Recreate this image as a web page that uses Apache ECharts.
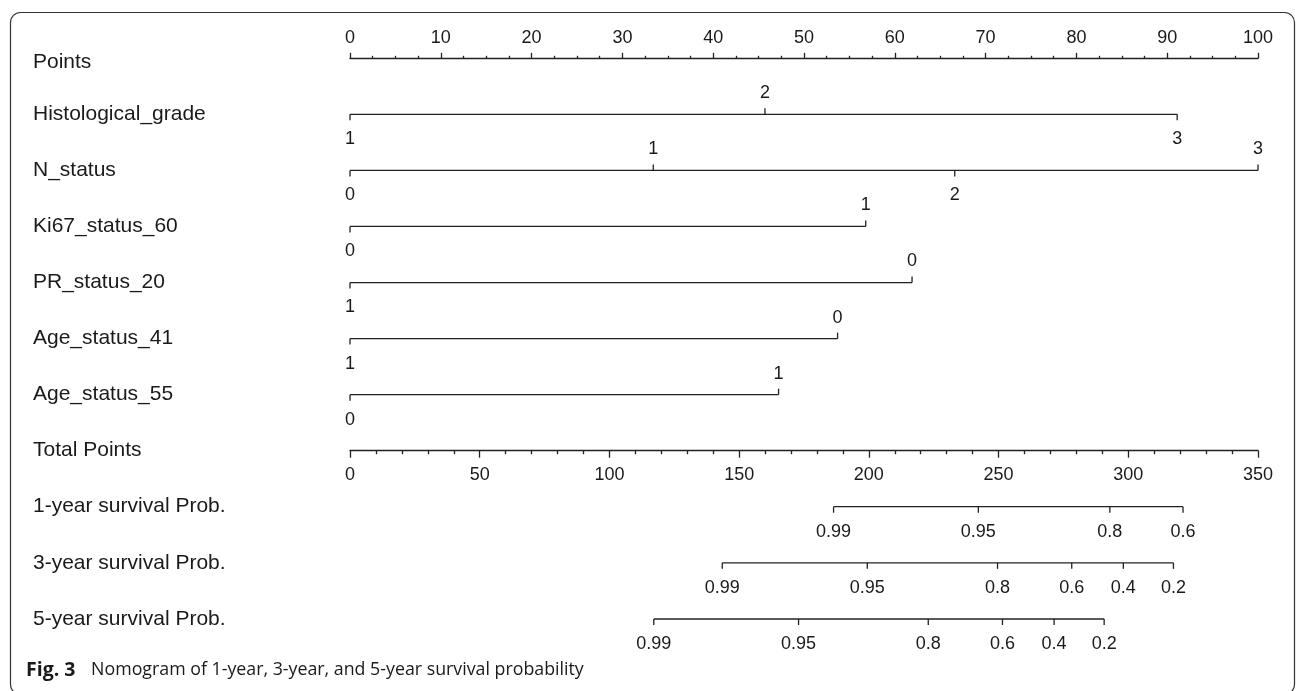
<!DOCTYPE html>
<html>
<head>
<meta charset="utf-8">
<title>Nomogram</title>
<script src="https://cdn.jsdelivr.net/npm/echarts@6/dist/echarts.min.js"></script>
<style>
  html, body { margin: 0; padding: 0; background: #fff; }
  #chart { width: 1296px; height: 691px; }
</style>
</head>
<body>
<div id="chart"></div>
<script>
// rows of the points part of the nomogram
const rowNames = [
  'Points',
  'Histological_grade',
  'N_status',
  'Ki67_status_60',
  'PR_status_20',
  'Age_status_41',
  'Age_status_55',
  'Total Points'
]
const probNames = ['1-year survival Prob.', '3-year survival Prob.', '5-year survival Prob.']

// variable levels and the points they score
const histLabels = ['1', '2', '3']
const histPoints = [0, 45.7, 91.1]
const nLabels = ['0', '1', '2', '3']
const nPoints = [0, 33.4, 66.6, 100]
const ki67Labels = ['0', '1']
const ki67Points = [0, 56.8]
const prLabels = ['1', '0']
const prPoints = [0, 61.9]
const age41Labels = ['1', '0']
const age41Points = [0, 53.7]
const age55Labels = ['0', '1']
const age55Points = [0, 47.2]

// survival probabilities placed on the total points scale
const prob1Labels = ['0.99', '0.95', '0.8', '0.6']
const prob1Total = [186.4, 242.2, 292.9, 321.1]
const prob3Labels = ['0.99', '0.95', '0.8', '0.6', '0.4', '0.2']
const prob3Total = [143.5, 199.4, 249.6, 278.2, 298.1, 317.4]
const prob5Labels = ['0.99', '0.95', '0.8', '0.6', '0.4', '0.2']
const prob5Total = [117.1, 172.9, 222.9, 251.5, 271.4, 290.7]

const pointsMax = 100
const pointsStep = 10
const totalMax = 350
const totalStep = 50

const varRows = [
  { name: 'Histological_grade', labels: histLabels, values: histPoints },
  { name: 'N_status', labels: nLabels, values: nPoints },
  { name: 'Ki67_status_60', labels: ki67Labels, values: ki67Points },
  { name: 'PR_status_20', labels: prLabels, values: prPoints },
  { name: 'Age_status_41', labels: age41Labels, values: age41Points },
  { name: 'Age_status_55', labels: age55Labels, values: age55Points }
]
const probRows = [
  { name: probNames[0], labels: prob1Labels, values: prob1Total },
  { name: probNames[1], labels: prob3Labels, values: prob3Total },
  { name: probNames[2], labels: prob5Labels, values: prob5Total }
]

const inkColor = '#222'
const textColor = '#1a1a1a'
const fontFamily = '"Liberation Sans", Arial, sans-serif'

// draws one bracket-like scale: line, ticks and level labels
const makeRenderer = (rows, names, alternate) => (params, api) => {
  const r = rows[params.dataIndex]
  const rowIdx = names.indexOf(r.name)
  const pts = r.values.map((v) => api.coord([v, rowIdx]))
  const y = pts[0][1]
  const lineStyle = { stroke: inkColor, lineWidth: 1.3 }
  const children = [
    {
      type: 'line',
      shape: { x1: pts[0][0], y1: y, x2: pts[pts.length - 1][0], y2: y },
      style: lineStyle
    }
  ]
  pts.forEach((p, i) => {
    const up = alternate && i % 2 === 1
    children.push({
      type: 'line',
      shape: { x1: p[0], y1: y, x2: p[0], y2: up ? y - 6 : y + 6 },
      style: lineStyle
    })
    children.push({
      type: 'text',
      x: p[0],
      y: up ? y - 21 : y + 25,
      style: {
        text: r.labels[i],
        fill: textColor,
        fontSize: 18,
        fontFamily,
        align: 'center',
        verticalAlign: 'middle'
      }
    })
  })
  return { type: 'group', children }
}

const rowLabelStyle = {
  interval: 0,
  align: 'left',
  margin: 317,
  color: textColor,
  fontSize: 21,
  fontFamily,
  formatter: (v) => (v === 'Points' ? '{p|' + v + '}' : v),
  rich: {
    p: { fontSize: 21, fontFamily, color: textColor, padding: [8, 0, 0, 0] }
  }
}

const axisInk = { color: inkColor, width: 1.3 }

const chart = echarts.init(document.getElementById('chart'), null, { renderer: 'canvas' })

chart.setOption({
  backgroundColor: '#fff',
  animation: false,
  grid: [
    { left: 350, width: 908, top: 58.3, height: 392.4 },
    { left: 350, width: 908, top: 506.7, height: 112.3 }
  ],
  xAxis: [
    {
      gridIndex: 0,
      type: 'value',
      position: 'top',
      min: 0,
      max: pointsMax,
      interval: pointsStep,
      axisLine: { show: true, onZero: false, lineStyle: axisInk },
      axisTick: { show: true, length: 5.5, lineStyle: axisInk },
      minorTick: { show: true, splitNumber: 4, length: 2.5, lineStyle: axisInk },
      axisLabel: { show: true, color: textColor, fontSize: 18, fontFamily, margin: 11 },
      splitLine: { show: false }
    },
    {
      gridIndex: 0,
      type: 'value',
      position: 'bottom',
      min: 0,
      max: totalMax,
      interval: totalStep,
      axisLine: { show: true, onZero: false, lineStyle: axisInk },
      axisTick: { show: true, length: 7, lineStyle: axisInk },
      minorTick: { show: true, splitNumber: 5, length: 3.5, lineStyle: axisInk },
      axisLabel: { show: true, color: textColor, fontSize: 18, fontFamily, margin: 15 },
      splitLine: { show: false }
    },
    {
      gridIndex: 1,
      type: 'value',
      min: 0,
      max: totalMax,
      show: false
    }
  ],
  yAxis: [
    {
      gridIndex: 0,
      type: 'category',
      data: rowNames,
      inverse: true,
      boundaryGap: false,
      axisLine: { show: false },
      axisTick: { show: false },
      splitLine: { show: false },
      axisLabel: rowLabelStyle
    },
    {
      gridIndex: 1,
      type: 'category',
      data: probNames,
      inverse: true,
      boundaryGap: false,
      axisLine: { show: false },
      axisTick: { show: false },
      splitLine: { show: false },
      axisLabel: rowLabelStyle
    }
  ],
  series: [
    {
      type: 'custom',
      name: 'variables',
      xAxisIndex: 0,
      yAxisIndex: 0,
      renderItem: makeRenderer(varRows, rowNames, true),
      data: varRows.map((r) => [r.values[r.values.length - 1], rowNames.indexOf(r.name)]),
      encode: { x: 0, y: 1 },
      silent: true
    },
    {
      type: 'custom',
      name: 'survival',
      xAxisIndex: 2,
      yAxisIndex: 1,
      renderItem: makeRenderer(probRows, probNames, false),
      data: probRows.map((r) => [r.values[r.values.length - 1], probNames.indexOf(r.name)]),
      encode: { x: 0, y: 1 },
      silent: true
    }
  ],
  graphic: [
    {
      type: 'rect',
      shape: { x: 10.5, y: 12.5, width: 1284, height: 682, r: 10 },
      style: { fill: 'none', stroke: '#333', lineWidth: 1.2 },
      silent: true
    },
    {
      type: 'text',
      left: 26,
      top: 660,
      style: {
        text: '{b|Fig. 3}  {n|Nomogram of 1-year, 3-year, and 5-year survival probability}',
        rich: {
          b: {
            fontFamily: '"Open Sans", sans-serif',
            fontWeight: 'bold',
            fontSize: 19.5,
            fill: '#1a1a1a',
            padding: [0, 9, 0, 0]
          },
          n: { fontFamily: '"Open Sans", sans-serif', fontSize: 17.8, fill: '#1a1a1a' }
        }
      }
    }
  ]
})
</script>
</body>
</html>
